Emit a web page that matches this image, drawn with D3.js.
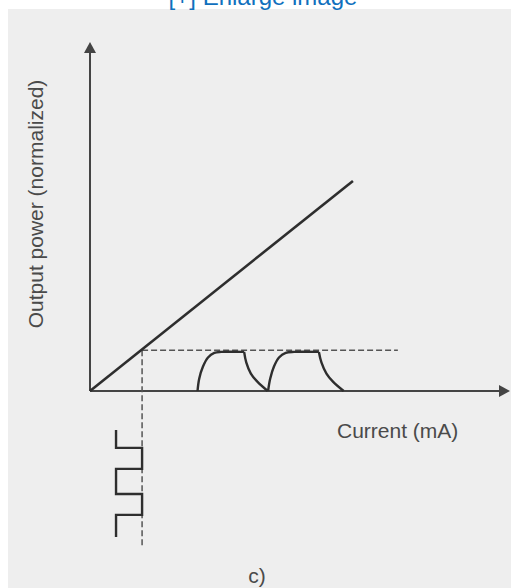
<!DOCTYPE html>
<html>
<head>
<meta charset="utf-8">
<script src="https://cdn.jsdelivr.net/npm/d3@7"></script>
<style>
  html, body { margin: 0; padding: 0; background: #ffffff; }
  svg { display: block; }
  text { font-family: "Liberation Sans", Arial, sans-serif; }
</style>
</head>
<body>
<svg id="chart" width="511" height="588"></svg>
<script>
// ---- Data (diagram units: current 0..100, power 0..100) ----
const axisMax = [100, 100];                       // x (current), y (power)
const liCurve = [[0, 0], [62.6, 60.2]];          // L-I characteristic
const biasCurrent = 12.4;                        // operating point (current)
const biasPower = 11.7;                          // operating point (power)
const dashedHEnd = 73.3;                         // end of horizontal dashed line
const dashedVEnd = -45;                          // end of vertical dashed line (below axis)
// optical pulses: rise (+ flat top), decay segments
const pulse1Rise  = [[25.6, 0], [26.0, 3.5], [26.9, 7.0], [28.1, 9.6], [29.6, 10.9], [31.2, 11.2], [36.7, 11.2]];
const pulse1Decay = [[36.7, 11.2], [37.2, 8.2], [38.3, 5.0], [39.9, 2.6], [42.3, 0]];
const pulse2Rise  = [[42.4, 0], [42.9, 3.5], [43.8, 7.0], [45.0, 9.6], [46.6, 10.9], [48.6, 11.2], [54.5, 11.2]];
const pulse2Decay = [[54.5, 11.2], [55.1, 8.2], [56.3, 5.0], [57.9, 2.6], [60.4, 0]];
// modulation current square wave (below the axis)
const squareWave = [[6.2, -11.2], [6.2, -16.3], [12.4, -16.3], [12.4, -22.3], [6.2, -22.3],
                    [6.2, -29.5], [12.4, -29.5], [12.4, -35.5], [6.2, -35.5], [6.2, -41.8]];
const labels = { x: "Current (mA)", y: "Output power (normalized)", caption: "c)", link: "[+] Enlarge image" };

// ---- Drawing ----
const svg = d3.select("#chart");
const ink = "#2e2e2e";

// background panel
svg.append("rect").attr("x", 8).attr("y", 9).attr("width", 503).attr("height", 579).attr("fill", "#eeeeee");

// link text at top (cut off at the top edge, as in the reference)
svg.append("text").attr("x", 263).attr("y", 5).attr("text-anchor", "middle")
  .attr("font-size", 24).attr("fill", "#1070bd").text(labels.link);

const x = d3.scaleLinear().domain([0, axisMax[0]]).range([90, 510]);
const y = d3.scaleLinear().domain([0, axisMax[1]]).range([391, 42]);

const lineLin = d3.line().x(d => x(d[0])).y(d => y(d[1]));
const lineCurve = d3.line().x(d => x(d[0])).y(d => y(d[1])).curve(d3.curveCatmullRom.alpha(0.5));

// axes
svg.append("line").attr("x1", x(0)).attr("y1", y(0)).attr("x2", x(0)).attr("y2", y(axisMax[1]) + 8)
  .attr("stroke", "#444").attr("stroke-width", 2);
svg.append("line").attr("x1", x(0)).attr("y1", y(0)).attr("x2", x(axisMax[0]) - 8).attr("y2", y(0))
  .attr("stroke", "#444").attr("stroke-width", 2);
// arrowheads
const tipY = [x(0), y(axisMax[1])];
svg.append("path").attr("d", `M${tipY[0]},${tipY[1]} L${tipY[0] - 6},${tipY[1] + 11} L${tipY[0] + 6},${tipY[1] + 11} Z`).attr("fill", "#444");
const tipX = [x(axisMax[0]), y(0)];
svg.append("path").attr("d", `M${tipX[0]},${tipX[1]} L${tipX[0] - 11},${tipX[1] - 6} L${tipX[0] - 11},${tipX[1] + 6} Z`).attr("fill", "#444");

// dashed lines
svg.append("line").attr("x1", x(biasCurrent)).attr("y1", y(biasPower)).attr("x2", x(dashedHEnd)).attr("y2", y(biasPower))
  .attr("stroke", "#555").attr("stroke-width", 1.5).attr("stroke-dasharray", "6,3");
svg.append("line").attr("x1", x(biasCurrent)).attr("y1", y(biasPower)).attr("x2", x(biasCurrent)).attr("y2", y(dashedVEnd))
  .attr("stroke", "#555").attr("stroke-width", 1.5).attr("stroke-dasharray", "6,3");

// L-I line
svg.append("path").attr("d", lineLin(liCurve)).attr("fill", "none").attr("stroke", ink).attr("stroke-width", 2.6);

// pulses
[pulse1Rise, pulse1Decay, pulse2Rise, pulse2Decay].forEach(seg => {
  svg.append("path").attr("d", lineCurve(seg)).attr("fill", "none").attr("stroke", ink)
    .attr("stroke-width", 2.4).attr("stroke-linejoin", "round");
});

// square wave
svg.append("path").attr("d", lineLin(squareWave)).attr("fill", "none").attr("stroke", ink).attr("stroke-width", 2.4);

// labels
svg.append("text").attr("transform", "translate(43,204) rotate(-90)").attr("text-anchor", "middle")
  .attr("font-size", 21).attr("fill", "#4a4a4a").text(labels.y);
svg.append("text").attr("x", 337).attr("y", 438).attr("font-size", 21).attr("fill", "#4a4a4a").text(labels.x);
svg.append("text").attr("x", 257).attr("y", 583).attr("text-anchor", "middle")
  .attr("font-size", 21).attr("fill", "#4a4a4a").text(labels.caption);
</script>
</body>
</html>
